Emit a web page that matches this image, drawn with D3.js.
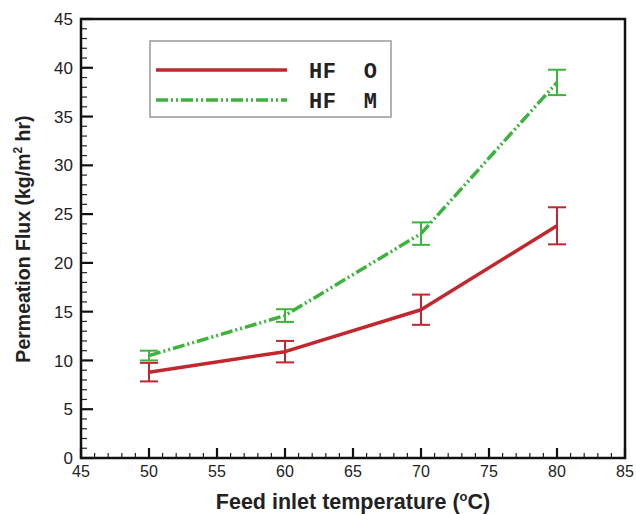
<!DOCTYPE html>
<html>
<head>
<meta charset="utf-8">
<script src="https://cdn.jsdelivr.net/npm/d3@7"></script>
<style>
  body { margin: 0; background: #fff; }
</style>
</head>
<body>
<div id="chart"></div>
<script>
// data
var temps = [50, 60, 70, 80];
var fluxO = [8.8, 10.9, 15.2, 23.8];
var errO  = [0.95, 1.1, 1.55, 1.9];
var fluxM = [10.5, 14.6, 23.0, 38.5];
var errM  = [0.5, 0.65, 1.15, 1.3];
var seriesNames = ["HF  O", "HF  M"];
var xTicks = [45, 50, 55, 60, 65, 70, 75, 80, 85];
var yTicks = [0, 5, 10, 15, 20, 25, 30, 35, 40, 45];

var W = 636, H = 515;
var pLeft = 81, pTop = 19, pRight = 625, pBottom = 458;

var svg = d3.select("#chart").append("svg")
  .attr("width", W).attr("height", H);

var x = d3.scaleLinear().domain([45, 85]).range([pLeft, pRight]);
var y = d3.scaleLinear().domain([0, 45]).range([pBottom, pTop]);

// minor ticks
var minorX = d3.range(45, 86, 1).filter(function(v){ return v % 5 != 0; });
var minorY = d3.range(0, 46, 1).filter(function(v){ return v % 5 != 0; });

svg.append("g").selectAll("line").data(minorX).enter().append("line")
  .attr("x1", function(d){ return x(d); }).attr("x2", function(d){ return x(d); })
  .attr("y1", pBottom).attr("y2", pBottom - 5)
  .attr("stroke", "#222").attr("stroke-width", 1.2);
svg.append("g").selectAll("line").data(minorY).enter().append("line")
  .attr("y1", function(d){ return y(d); }).attr("y2", function(d){ return y(d); })
  .attr("x1", pLeft).attr("x2", pLeft + 6)
  .attr("stroke", "#222").attr("stroke-width", 1.2);

// major ticks
svg.append("g").selectAll("line").data(xTicks).enter().append("line")
  .attr("x1", function(d){ return x(d); }).attr("x2", function(d){ return x(d); })
  .attr("y1", pBottom).attr("y2", pBottom - 10)
  .attr("stroke", "#111").attr("stroke-width", 2.2);
svg.append("g").selectAll("line").data(yTicks).enter().append("line")
  .attr("y1", function(d){ return y(d); }).attr("y2", function(d){ return y(d); })
  .attr("x1", pLeft).attr("x2", pLeft + 12)
  .attr("stroke", "#111").attr("stroke-width", 2.2);

// frame
svg.append("rect")
  .attr("x", pLeft).attr("y", pTop)
  .attr("width", pRight - pLeft).attr("height", pBottom - pTop)
  .attr("fill", "none").attr("stroke", "#111").attr("stroke-width", 2.5);

// tick labels
svg.append("g").selectAll("text").data(xTicks).enter().append("text")
  .attr("x", function(d){ return x(d); })
  .attr("y", 477)
  .attr("text-anchor", "middle")
  .style("font-family", "Liberation Sans, Arial, sans-serif")
  .style("font-size", "16px")
  .style("fill", "#222")
  .text(function(d){ return d; });
svg.append("g").selectAll("text").data(yTicks).enter().append("text")
  .attr("x", 73)
  .attr("y", function(d){ return y(d); })
  .attr("dy", "0.36em")
  .attr("text-anchor", "end")
  .style("font-family", "Liberation Sans, Arial, sans-serif")
  .style("font-size", "17px")
  .style("fill", "#222")
  .text(function(d){ return d; });

// axis titles
var xt = svg.append("text")
  .attr("x", 353).attr("y", 509)
  .attr("text-anchor", "middle")
  .style("font-family", "Liberation Sans, Arial, sans-serif")
  .style("font-size", "21.5px").style("font-weight", "bold")
  .style("fill", "#222");
xt.append("tspan").text("Feed inlet temperature (");
xt.append("tspan").attr("dy", -8).style("font-size", "13px").text("o");
xt.append("tspan").attr("dy", 8).text("C)");

var yt = svg.append("text")
  .attr("transform", "translate(30,239) rotate(-90)")
  .attr("text-anchor", "middle")
  .style("font-family", "Liberation Sans, Arial, sans-serif")
  .style("font-size", "19.5px").style("font-weight", "bold")
  .style("fill", "#222");
yt.append("tspan").text("Permeation Flux (kg/m");
yt.append("tspan").attr("dy", -8).style("font-size", "12px").text("2");
yt.append("tspan").attr("dy", 8).text(" hr)");

// series
var colors = ["#c1272d", "#3db33d"];
var dashes = [null, "12,3,2,3,2,3"];
var series = [
  { name: seriesNames[0], vals: fluxO, err: errO },
  { name: seriesNames[1], vals: fluxM, err: errM }
];

var line = d3.line()
  .x(function(d){ return x(d[0]); })
  .y(function(d){ return y(d[1]); });

series.forEach(function(s, i) {
  var pts = temps.map(function(t, j){ return [t, s.vals[j], s.err[j]]; });
  svg.append("path")
    .datum(pts)
    .attr("d", line)
    .attr("fill", "none")
    .attr("stroke", colors[i])
    .attr("stroke-width", 3.5)
    .attr("stroke-linejoin", "round")
    .attr("stroke-dasharray", dashes[i]);

  var eb = svg.append("g").selectAll("g").data(pts).enter().append("g")
    .attr("stroke", colors[i]).attr("stroke-width", 2);
  eb.append("line")
    .attr("x1", function(d){ return x(d[0]); }).attr("x2", function(d){ return x(d[0]); })
    .attr("y1", function(d){ return y(d[1] - d[2]); })
    .attr("y2", function(d){ return y(d[1] + d[2]); });
  eb.append("line")
    .attr("x1", function(d){ return x(d[0]) - 9; }).attr("x2", function(d){ return x(d[0]) + 9; })
    .attr("y1", function(d){ return y(d[1] + d[2]); })
    .attr("y2", function(d){ return y(d[1] + d[2]); });
  eb.append("line")
    .attr("x1", function(d){ return x(d[0]) - 9; }).attr("x2", function(d){ return x(d[0]) + 9; })
    .attr("y1", function(d){ return y(d[1] - d[2]); })
    .attr("y2", function(d){ return y(d[1] - d[2]); });
});

// legend
var lg = svg.append("g").attr("transform", "translate(150,41)");
lg.append("rect")
  .attr("width", 241).attr("height", 76)
  .attr("fill", "#fff").attr("stroke", "#999").attr("stroke-width", 1.5);
series.forEach(function(s, i) {
  var ly = 29 + i * 30;
  lg.append("line")
    .attr("x1", 6).attr("x2", 137)
    .attr("y1", ly).attr("y2", ly)
    .attr("stroke", colors[i]).attr("stroke-width", 3.5)
    .attr("stroke-dasharray", dashes[i]);
  lg.append("text")
    .attr("x", 159).attr("y", ly + 8)
    .style("font-family", "Liberation Mono, Courier New, monospace")
    .style("font-size", "22px").style("font-weight", "bold")
    .style("letter-spacing", "0.5px")
    .style("white-space", "pre")
    .style("fill", "#222")
    .text(s.name);
});
</script>
</body>
</html>
